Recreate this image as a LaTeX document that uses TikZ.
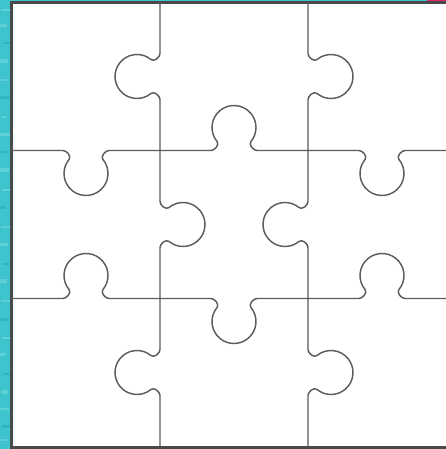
\documentclass[tikz,border=0pt]{standalone}
\definecolor{cyanbg}{HTML}{3DC4CD}
\definecolor{cyanlt}{HTML}{7ADCE2}
\definecolor{cyandk}{HTML}{22A9B4}
\definecolor{pinkbg}{HTML}{E0246E}
\definecolor{linegray}{HTML}{5C5C5C}
\definecolor{framegray}{HTML}{4A4A4A}
\tikzset{
  piece/.style={draw=linegray, line width=1.45pt, line join=round, line cap=round},
  frame/.style={draw=framegray, line width=2.8pt},
  pics/knobedge/.style={code={
    \draw[piece] (0,0) -- (51,0) to[out=0,in=-50,looseness=0.9] (57.15,8.86)
      arc[start angle=220,end angle=-40,radius=22pt]
      to[out=-130,in=180,looseness=0.9] (97,0) -- (148,0);
  }}
}
\begin{document}
\begin{tikzpicture}[x=1pt,y=1pt]
\useasboundingbox (0,0) rectangle (446,449);
% background
\fill[white] (0,0) rectangle (446,449);
\fill[cyanbg] (0,0) rectangle (11,449);
\foreach \yy/\hh/\xa/\xb/\cc in {8/2/0/7/cyanlt,21/3/2/10/cyandk,39/2/0/9/cyanlt,55/4/1/8/cyanlt,74/2/3/10/cyandk,93/3/0/6/cyanlt,110/2/2/10/cyanlt,128/3/0/9/cyandk,147/2/1/10/cyanlt,166/4/0/7/cyanlt,184/2/3/10/cyandk,203/3/0/8/cyanlt,221/2/1/10/cyanlt,240/3/0/6/cyandk,258/2/2/10/cyanlt,277/4/0/9/cyanlt,296/2/1/8/cyandk,313/3/0/10/cyanlt,331/2/2/7/cyanlt,350/3/0/10/cyandk,368/2/1/9/cyanlt,386/4/0/8/cyanlt,405/2/3/10/cyandk,422/3/0/7/cyanlt,438/2/1/10/cyanlt}
  \fill[\cc, opacity=0.55] (\xa,\yy) rectangle (\xb,\yy+\hh);
\fill[cyanbg] (0,447) rectangle (427,449);
\fill[pinkbg] (427,447) rectangle (446,449);
% outer frame
\draw[frame] (11.4,1.6) rectangle (460,446.6);
% vertical edges
\path (160,298.5) pic[rotate=90]  {knobedge};
\path (308,446.5) pic[rotate=-90] {knobedge};
\path (160,298.5) pic[rotate=-90] {knobedge};
\path (308,150.5) pic[rotate=90]  {knobedge};
\path (160,2.5)   pic[rotate=90]  {knobedge};
\path (308,150.5) pic[rotate=-90] {knobedge};
% horizontal edges
\path (160,298.5) pic[rotate=180] {knobedge};
\path (160,298.5) pic {knobedge};
\path (456,298.5) pic[rotate=180] {knobedge};
\path (12,150.5)  pic {knobedge};
\path (308,150.5) pic[rotate=180] {knobedge};
\path (308,150.5) pic {knobedge};
\end{tikzpicture}
\end{document}
